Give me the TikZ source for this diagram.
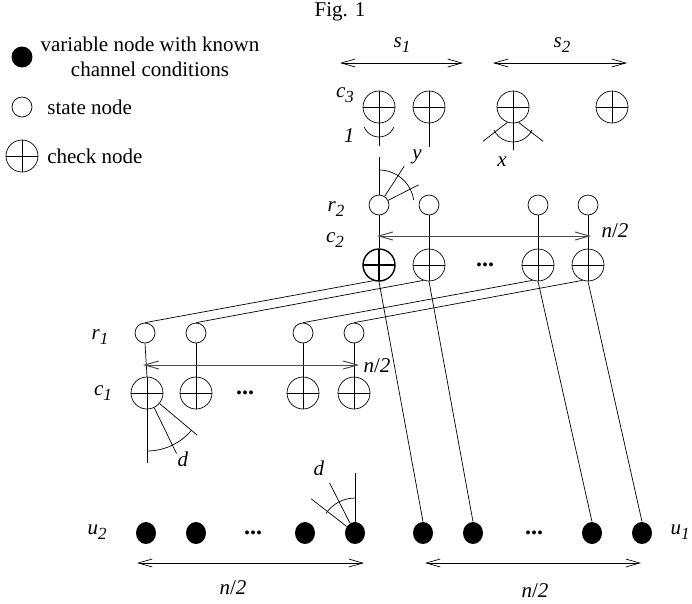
\documentclass[tikz,border=0pt]{standalone}
\usepackage{fontspec}
\setmainfont{Liberation Serif}
\usetikzlibrary{arrows.meta,shapes.geometric}

% label with a lowered index, as in the figure
\newcommand{\lbl}[2]{\textit{#1}\raisebox{-0.45ex}{\fontsize{17}{17}\selectfont\textit{#2}}}

\begin{document}
\begin{tikzpicture}[x=1pt,y=1pt,line width=0.7pt,
    every node/.style={font=\fontsize{21}{25}\selectfont,inner sep=0pt},
    state/.style={draw,circle,minimum size=20pt},
    check/.style={draw,circle,minimum size=32pt,
      path picture={\draw (path picture bounding box.north) -- (path picture bounding box.south)
        (path picture bounding box.west) -- (path picture bounding box.east);}},
    var/.style={fill,ellipse,minimum width=20pt,minimum height=22pt},
    gap/.style={font=\fontsize{24}{24}\selectfont\bfseries},
    span/.style={{Straight Barb[length=14pt,width=8pt]}-{Straight Barb[length=14pt,width=8pt]}}]
    \useasboundingbox (0,0) rectangle (692,-603);

    % Title
    \node (title) at (340,-12) {Fig. 1};

    % Legend
    \node[var,minimum width=21pt,minimum height=21pt] (kvar) at (22,-57) {};
    \node[align=center] (tvar) at (150,-57) {variable node with known\\channel conditions};
    \node[state] (kstate) at (22,-107) {};
    \node[anchor=west] (tstate) at (47,-107) {state node};
    \node[check] (kcheck) at (22,-156) {};
    \node[anchor=west] (tcheck) at (47,-156) {check node};

    % Spans s1 and s2
    \coordinate (s1l) at (340,-63);
    \coordinate (s1r) at (463,-63);
    \coordinate (s2l) at (493,-63);
    \coordinate (s2r) at (627,-63);
    \draw[span] (s1l) -- (s1r);
    \draw[span] (s2l) -- (s2r);
    \node (ls1) at (402,-45) {\lbl{s}{1}};
    \node (ls2) at (562,-45) {\lbl{s}{2}};

    % Check nodes c3
    \node[check] (c3a) at (379,-107) {};
    \node[check] (c3b) at (429,-107) {};
    \node[check] (c3c) at (513,-107) {};
    \node[check] (c3d) at (612,-107) {};
    \node (lc3) at (345,-95) {\lbl{c}{3}};
    \node (lone) at (349,-136) {\textit{1}};
    \node (ly) at (417,-157) {\textit{y}};
    \node (lx) at (502,-162) {\textit{x}};
    \coordinate (c3aend) at (379,-146);
    \coordinate (c3bend) at (429,-147);
    \coordinate (c3cend) at (513,-150);
    \draw (c3a.south) -- (c3aend);
    \draw (c3b.south) -- (c3bend);
    \draw (c3c.south) -- (c3cend);
    \draw ([yshift=-14pt]c3a.center) ++(202:16) arc[start angle=202,end angle=338,radius=16];
    \draw ([yshift=-14pt]c3c.center) ++(205:21) arc[start angle=205,end angle=335,radius=21];
    \draw (c3c.250) -- ++(-24.5,-19);
    \draw (c3c.290) -- ++(24.5,-19);

    % State nodes r2
    \node[state] (r2a) at (379,-205) {};
    \node[state] (r2b) at (429,-205) {};
    \node[state] (r2c) at (538,-205) {};
    \node[state] (r2d) at (588,-205) {};
    \node (lr2) at (336,-209) {\lbl{r}{2}};
    \coordinate (r2top) at (379,-157);
    \draw (r2top) -- (r2a.north);
    \draw (r2a.57) -- ++(57:36);
    \draw (r2a.27) -- ++(27:34);
    \draw (r2a.center) ++(90:35) arc[start angle=90,end angle=8,radius=35];

    % Check nodes c2
    \node[check,line width=1.4pt] (c2a) at (379,-265) {};
    \node[check] (c2b) at (429,-265) {};
    \node[check] (c2c) at (538,-265) {};
    \node[check] (c2d) at (588,-265) {};
    \node[gap] (dots2) at (485,-265) {...};
    \node (lc2) at (335,-240) {\lbl{c}{2}};
    \draw (r2a.south) -- (c2a.north);
    \draw (r2b.south) -- (c2b.north);
    \draw (r2c.south) -- (c2c.north);
    \draw (r2d.south) -- (c2d.north);
    \coordinate (c2l) at (377,-236);
    \coordinate (c2r) at (591,-236);
    \draw[span,black!70,line width=1pt] (c2l) -- (c2r);
    \node (ln2a) at (615,-231) {\textit{n}/\textit{2}};

    % State nodes r1
    \node[state] (r1a) at (145,-333) {};
    \node[state] (r1b) at (196,-333) {};
    \node[state] (r1c) at (303,-333) {};
    \node[state] (r1d) at (354,-333) {};
    \node (lr1) at (100,-337) {\lbl{r}{1}};
    \draw (r1a.north) -- (c2a.-110);
    \draw (r1b.north) -- (c2b.-110);
    \draw (r1c.north) -- (c2c.-110);
    \draw (r1d.north) -- (c2d.-110);

    % Check nodes c1
    \node[check] (c1a) at (147,-393) {};
    \node[check] (c1b) at (196,-393) {};
    \node[check] (c1c) at (303,-393) {};
    \node[check] (c1d) at (354,-393) {};
    \node[gap] (dots1) at (245,-393) {...};
    \node (lc1) at (103,-393) {\lbl{c}{1}};
    \draw (r1a.south) -- (c1a.north);
    \draw (r1b.south) -- (c1b.north);
    \draw (r1c.south) -- (c1c.north);
    \draw (r1d.south) -- (c1d.north);
    \coordinate (r1l) at (143,-365);
    \coordinate (r1r) at (359,-365);
    \draw[span,black!70,line width=1pt] (r1l) -- (r1r);
    \node (ln2b) at (377,-366) {\textit{n}/\textit{2}};
    \coordinate (c1end) at (147,-463);
    \draw (c1a.south) -- (c1end);
    \draw (c1a.-64) -- ++(-64:51);
    \draw (c1a.-40) -- ++(-40:49);
    \draw (c1a.center) ++(-90:58) arc[start angle=-90,end angle=-40,radius=58];
    \node (ld1) at (183,-459) {\textit{d}};

    % Variable nodes u2
    \node[var] (u2a) at (146,-533) {};
    \node[var] (u2b) at (196,-533) {};
    \node[var] (u2c) at (305,-533) {};
    \node[var] (u2d) at (355,-533) {};
    \node[gap] (dots3) at (253,-533) {...};
    \node (lu2) at (97,-532) {\lbl{u}{2}};
    \coordinate (u2top) at (355,-473);
    \draw (u2d.north) -- (u2top);
    \draw (u2d.142) -- ++(142:45);
    \draw (u2d.117) -- ++(117:45);
    \draw (u2d.center) ++(90:35) arc[start angle=90,end angle=146,radius=35];
    \node (ld2) at (319,-468) {\textit{d}};
    \coordinate (u2l) at (137,-563);
    \coordinate (u2r) at (364,-563);
    \draw[span] (u2l) -- (u2r);
    \node (ln2c) at (233,-588) {\textit{n}/\textit{2}};

    % Variable nodes u1
    \node[var] (u1a) at (423,-533) {};
    \node[var] (u1b) at (473,-533) {};
    \node[var] (u1c) at (592,-533) {};
    \node[var] (u1d) at (642,-533) {};
    \node[gap] (dots4) at (534,-533) {...};
    \node (lu1) at (680,-532) {\lbl{u}{1}};
    \draw (c2a.south) -- (u1a.north);
    \draw (c2b.south) -- (u1b.north);
    \draw (c2c.south) -- (u1c.north);
    \draw (c2d.south) -- (u1d.north);
    \coordinate (u1l) at (425,-563);
    \coordinate (u1r) at (641,-563);
    \draw[span] (u1l) -- (u1r);
    \node (ln2d) at (535,-591) {\textit{n}/\textit{2}};
\end{tikzpicture}
\end{document}
